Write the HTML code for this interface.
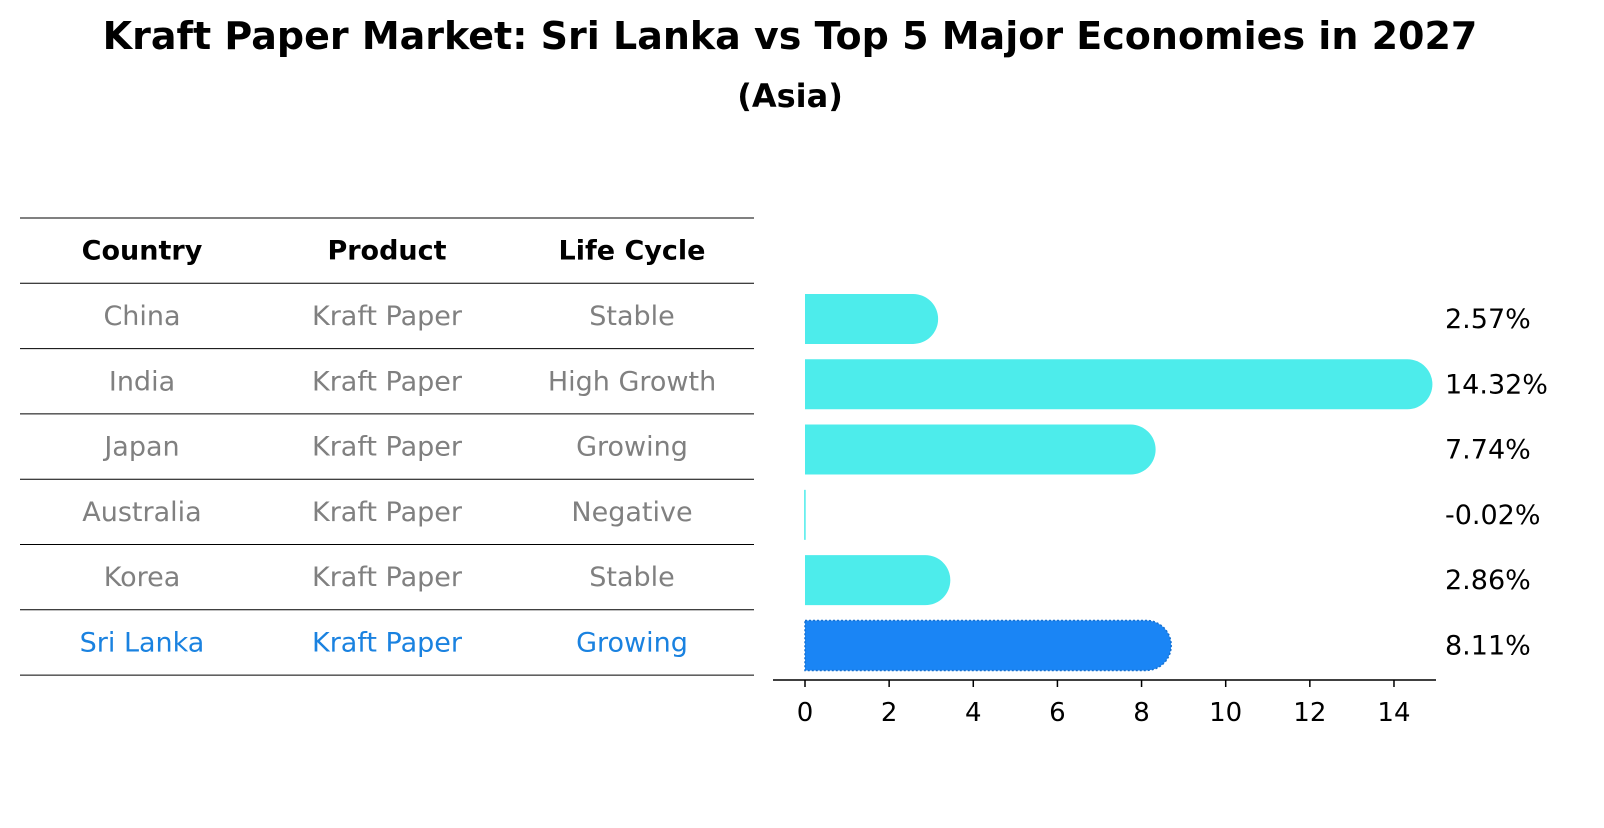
<!DOCTYPE html>
<html><head><meta charset="utf-8"><style>
body{margin:0;background:#fff;font-family:"Liberation Sans","DejaVu Sans",sans-serif}
svg text{font-family:"DejaVu Sans","Liberation Sans",sans-serif}
</style></head><body>
<svg id="chart" width="1604" height="823" viewBox="0 0 1604 823" xmlns="http://www.w3.org/2000/svg">
<text x="790" y="49" text-anchor="middle" font-size="38" font-weight="bold">Kraft Paper Market: Sri Lanka vs Top 5 Major Economies in 2027</text>
<text x="790" y="107" text-anchor="middle" font-size="32" font-weight="bold">(Asia)</text>
<g id="table"></g>
<g id="bars"></g>
</svg>
<script>
const countries=["China","India","Japan","Australia","Korea","Sri Lanka"];
const products=["Kraft Paper","Kraft Paper","Kraft Paper","Kraft Paper","Kraft Paper","Kraft Paper"];
const lifeCycles=["Stable","High Growth","Growing","Negative","Stable","Growing"];
const growth=[2.57,14.32,7.74,-0.02,2.86,8.11];
const ticks=[0,2,4,6,8,10,12,14];
const NS="http://www.w3.org/2000/svg";
function mk(tag,attrs,parent){const e=document.createElementNS(NS,tag);for(const k in attrs)e.setAttribute(k,attrs[k]);parent.appendChild(e);return e;}
const table=document.getElementById('table');
const bars=document.getElementById('bars');
const rowTop=218,rowH=65.3;
const colX=[142,387,632];
function hline(y){const l=mk('line',{x1:20,x2:754,y1:y,y2:y,stroke:'#000','stroke-width':1},table);

}
hline(rowTop);
["Country","Product","Life Cycle"].forEach((h,i)=>{const t=mk('text',{x:colX[i],y:rowTop+rowH/2+9,'text-anchor':'middle','font-size':27,'font-weight':'bold'},table);t.textContent=h;

});
const x0=805,ppu=42.07,bh=50;
function xs(v){return x0+v*ppu;}
function yc(i){return rowTop+rowH*(i+1)+rowH/2;}
for(let i=0;i<=countries.length;i++)hline(rowTop+rowH*(i+1));
countries.forEach((c,i)=>{
 const col=i===countries.length-1?'#1a82e0':'#808080';
 [c,products[i],lifeCycles[i]].forEach((v,j)=>{const t=mk('text',{x:colX[j],y:yc(i)+9,'text-anchor':'middle','font-size':27,fill:col},table);t.textContent=v;
 
 });
 const y=yc(i)-bh/2+3, v=growth[i], r=bh/2, hl=i===countries.length-1;
 const fill=hl?'#1a85f5':'#4deceb';
 let el;
 if(v>0){const xe=xs(v);
  el=mk('path',{d:`M${x0},${y} H${xe} A${r},${r} 0 0 1 ${xe},${y+bh} H${x0} Z`,fill:fill},bars);
  if(hl){el.setAttribute('stroke','#1670d0');el.setAttribute('stroke-dasharray','2 2');el.setAttribute('stroke-width','1.5');}
 } else {el=mk('rect',{x:Math.min(x0,xs(v)),y:y,width:Math.max(1.5,Math.abs(xs(v)-x0)),height:bh,fill:fill},bars);}
 
 
 const t=mk('text',{x:1445,y:yc(i)+12,'font-size':27},bars);t.textContent=v.toFixed(2)+'%';
 
 
});
const ax=mk('line',{x1:773,x2:1436,y1:680,y2:680,stroke:'#000','stroke-width':1.5},bars);


ticks.forEach(tv=>{const l=mk('line',{x1:xs(tv),x2:xs(tv),y1:680,y2:687,stroke:'#000','stroke-width':1.5},bars);


const t=mk('text',{x:xs(tv),y:721,'text-anchor':'middle','font-size':26},bars);t.textContent=tv;

});
</script>
</body></html>
